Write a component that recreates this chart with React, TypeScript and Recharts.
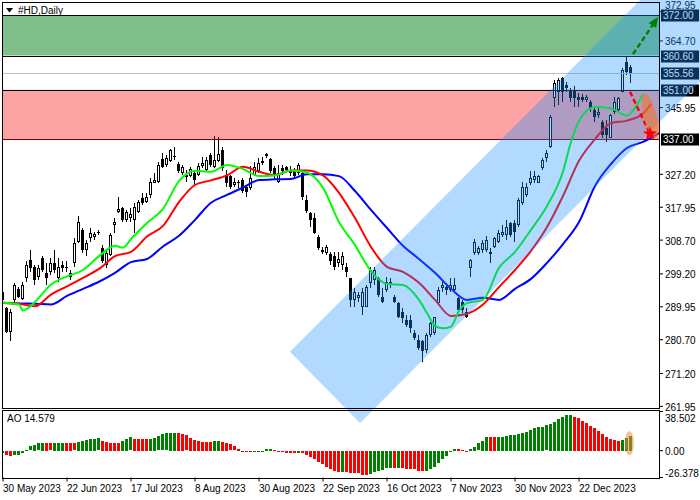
import React from 'react';
import {
  ComposedChart,
  Bar,
  Line,
  Cell,
  XAxis,
  YAxis,
  ReferenceArea,
  ReferenceLine,
  ReferenceDot,
} from 'recharts';

const W = 700;
const H = 500;
const FONT = '"Liberation Sans", Arial, sans-serif';

const DATE_LABELS = [
  '30 May 2023', '22 Jun 2023', '17 Jul 2023', '8 Aug 2023', '30 Aug 2023',
  '22 Sep 2023', '16 Oct 2023', '7 Nov 2023', '30 Nov 2023', '22 Dec 2023',
];
const DATE_BARS = [0, 16, 32, 48, 64, 80, 96, 112, 128, 144];

const PRICE_TICKS = [372.95, 364.7, 345.95, 327.2, 317.95, 308.7, 299.2, 289.95, 280.7, 271.2, 261.95];
const AO_TICKS = [38.502, 0, -26.378];

// horizontal levels
const TARGET_UP = 372.0;
const RESISTANCE = 360.6;
const LAST_PRICE = 355.56;
const SUPPORT = 351.0;
const TARGET_DOWN = 337.0;

// daily candles, 30 May 2023 onwards
const OPEN = [
  294.1, 289.6, 283.0, 291.9, 295.0, 292.2, 298.1, 303.1, 301.2, 298.4,
  303.6, 299.4, 299.8, 302.2, 298.0, 301.7, 300.8, 298.4, 302.2, 308.3,
  311.6, 305.9, 309.2, 309.7, 311.1, 306.4, 301.7, 304.5, 313.0, 316.7,
  317.7, 314.4, 314.9, 314.4, 316.7, 320.5, 319.4, 321.4, 324.9, 325.1,
  331.4, 329.8, 331.0, 332.0, 330.0, 327.5, 327.0, 326.7, 327.5, 327.0,
  329.6, 328.4, 332.6, 329.3, 331.0, 333.9, 326.6, 326.6, 324.2, 325.1,
  325.6, 323.7, 323.3, 327.0, 328.0, 330.3, 332.4, 331.4, 328.9, 325.1,
  328.9, 329.2, 328.4, 328.0, 327.5, 327.5, 320.0, 316.2, 314.9, 309.7,
  305.9, 305.0, 304.8, 304.1, 302.2, 301.7, 301.2, 298.0, 291.9, 292.4,
  290.0, 290.0, 296.6, 297.5, 298.0, 292.8, 294.7, 296.1, 292.8, 290.9,
  288.6, 286.3, 286.3, 282.5, 280.6, 280.2, 277.8, 282.0, 282.5, 290.9,
  295.2, 295.6, 294.7, 294.7, 292.4, 291.4, 288.6, 300.8, 305.0, 305.0,
  305.9, 305.9, 304.8, 306.9, 308.3, 310.2, 310.2, 313.5, 313.5, 312.9,
  319.1, 321.4, 324.7, 325.6, 324.9, 328.9, 331.7, 335.0, 348.6, 350.4,
  354.2, 352.3, 350.9, 350.9, 349.0, 349.0, 348.1, 347.6, 345.3, 343.9,
  342.0, 340.1, 337.3, 344.8, 345.3, 350.4, 358.9, 357.5,
];
const HIGH = [
  294.7, 289.9, 289.4, 296.7, 295.6, 297.0, 302.7, 305.9, 301.7, 301.7,
  304.1, 302.2, 303.6, 305.9, 303.6, 302.7, 302.7, 300.3, 309.2, 315.5,
  312.0, 308.7, 312.0, 311.1, 311.6, 307.3, 305.9, 310.6, 314.9, 320.9,
  318.1, 317.2, 317.7, 319.1, 320.0, 321.9, 321.9, 326.1, 327.5, 330.8,
  333.1, 332.6, 334.2, 335.0, 330.8, 329.8, 328.4, 329.2, 328.0, 330.5,
  332.2, 332.2, 333.1, 338.0, 337.8, 335.0, 328.4, 327.0, 326.1, 325.6,
  326.1, 324.2, 329.4, 330.8, 331.7, 332.2, 333.3, 331.7, 329.4, 329.8,
  329.8, 329.6, 329.4, 328.9, 330.3, 328.4, 321.4, 316.7, 316.2, 310.2,
  306.9, 307.3, 305.5, 305.5, 305.5, 305.5, 302.2, 298.0, 295.2, 294.2,
  295.2, 296.1, 301.2, 301.2, 298.4, 295.2, 298.4, 298.0, 293.3, 291.4,
  289.6, 287.7, 287.7, 283.5, 282.0, 280.6, 282.5, 285.8, 287.2, 295.6,
  297.5, 296.6, 298.0, 298.0, 292.8, 291.9, 289.6, 303.3, 308.9, 307.1,
  308.7, 309.9, 306.4, 309.7, 311.6, 313.0, 314.4, 313.9, 314.4, 320.5,
  325.1, 324.7, 328.0, 328.0, 327.0, 331.7, 334.1, 343.9, 353.7, 354.2,
  354.7, 353.2, 351.4, 351.9, 350.0, 349.7, 349.5, 348.1, 345.8, 345.8,
  342.5, 342.5, 344.3, 349.0, 349.0, 357.0, 360.3, 358.0,
];
const LOW = [
  289.1, 282.6, 280.2, 291.0, 292.4, 291.9, 297.0, 299.8, 296.1, 297.5,
  299.8, 296.1, 298.9, 299.4, 297.0, 299.8, 299.8, 297.5, 301.2, 307.8,
  305.0, 304.1, 308.3, 308.7, 310.2, 302.2, 300.8, 304.1, 310.6, 316.2,
  313.9, 313.9, 313.9, 310.6, 316.2, 318.6, 319.1, 320.5, 324.7, 324.7,
  328.9, 329.3, 330.8, 331.2, 327.7, 327.0, 325.1, 326.4, 324.2, 326.6,
  328.9, 328.0, 329.3, 328.9, 330.8, 328.0, 323.7, 323.0, 323.7, 323.3,
  321.9, 320.9, 322.8, 326.6, 327.5, 329.8, 331.7, 327.5, 325.6, 324.9,
  327.0, 328.0, 326.6, 326.2, 327.0, 320.0, 316.4, 312.5, 310.4, 305.9,
  304.8, 304.5, 301.7, 300.3, 301.2, 300.3, 298.4, 290.0, 290.0, 291.4,
  287.7, 289.9, 295.2, 296.1, 292.8, 290.9, 294.2, 295.2, 290.9, 286.7,
  285.3, 284.4, 282.5, 280.6, 277.8, 274.5, 276.9, 281.6, 282.0, 290.5,
  294.2, 293.3, 294.2, 294.2, 288.1, 288.1, 286.7, 298.4, 304.5, 304.5,
  305.0, 305.5, 302.2, 306.4, 307.8, 309.7, 308.7, 309.7, 308.3, 312.5,
  318.6, 320.9, 324.2, 324.7, 324.7, 328.4, 330.8, 334.5, 346.2, 346.7,
  347.6, 350.4, 347.6, 346.2, 346.2, 347.6, 347.6, 344.8, 342.0, 342.9,
  337.3, 336.4, 337.3, 344.3, 344.8, 350.4, 355.1, 352.8,
];
const CLOSE = [
  291.9, 282.9, 288.6, 296.1, 292.7, 296.1, 301.7, 300.9, 297.5, 300.8,
  300.3, 298.0, 302.2, 300.3, 301.2, 300.8, 301.2, 299.4, 307.8, 313.9,
  305.9, 307.8, 310.6, 310.4, 310.6, 302.7, 305.0, 310.2, 313.9, 317.5,
  314.4, 316.7, 316.1, 318.1, 319.5, 319.1, 320.8, 325.1, 325.6, 329.8,
  329.3, 331.7, 333.9, 332.4, 328.0, 329.3, 326.4, 328.7, 325.6, 329.6,
  330.3, 331.2, 329.8, 331.2, 332.9, 328.9, 324.7, 323.6, 325.1, 324.7,
  322.6, 322.3, 326.1, 329.3, 330.3, 331.0, 332.9, 328.0, 326.6, 327.5,
  328.0, 328.4, 327.5, 326.6, 329.8, 320.9, 317.0, 314.4, 310.6, 306.4,
  305.3, 306.9, 302.7, 301.2, 303.3, 304.1, 299.6, 291.9, 294.2, 293.3,
  294.2, 295.6, 300.3, 300.3, 293.3, 291.4, 297.0, 297.0, 291.4, 287.2,
  286.7, 284.9, 283.9, 281.1, 278.3, 277.4, 282.0, 285.3, 287.2, 294.7,
  296.1, 294.7, 296.1, 296.1, 289.1, 289.1, 287.2, 303.1, 308.3, 306.4,
  307.8, 308.7, 305.5, 309.2, 310.6, 311.1, 312.5, 310.2, 311.1, 320.0,
  323.7, 323.7, 326.1, 326.6, 326.6, 331.2, 333.1, 343.4, 352.8, 353.7,
  350.4, 351.4, 348.6, 348.6, 348.1, 348.1, 349.0, 345.8, 343.4, 344.8,
  338.3, 338.3, 343.9, 347.6, 348.6, 356.5, 356.1, 355.6,
];

// Alligator lines, read at the bar index listed beside them (shifted forward past the last candle)
const JAW_BARS = [
  0, 4, 8, 12, 16, 20, 24, 28, 32, 36, 40, 44, 48, 52, 56, 60, 64, 68, 72, 76, 80,
  84, 88, 92, 96, 100, 104, 108, 112, 116, 120, 124, 128, 132, 136, 140, 144, 148, 152, 156, 160, 164,
];
const JAW = [
  291.1, 290.9, 290.8, 290.6, 293.0, 295.0, 297.0, 299.5, 302.5, 303.4, 306.9, 309.9, 314.4, 319.2,
  321.4, 323.5, 325.6, 325.8, 325.9, 327.2, 327.2, 326.7, 322.5, 317.2, 312.1, 307.1, 303.4, 299.5,
  295.0, 291.9, 292.5, 291.9, 295.0, 297.8, 302.3, 307.6, 313.8, 323.9, 330.1, 334.6, 336.3, 338.8,
];
const TEETH_BARS = [
  0, 4, 8, 12, 16, 20, 24, 28, 32, 36, 40, 44, 48, 52, 56, 60, 64, 68, 72, 76, 80,
  84, 88, 92, 96, 100, 104, 108, 112, 116, 120, 124, 128, 132, 136, 140, 144, 148, 152, 156, 160, 162,
];
const TEETH = [
  291.0, 290.8, 290.1, 293.4, 295.7, 298.1, 300.6, 304.2, 305.4, 309.7, 312.7, 319.4, 324.2, 325.5,
  326.9, 329.3, 327.9, 327.0, 328.3, 328.3, 326.9, 322.0, 314.9, 306.8, 301.2, 299.8, 296.7, 291.9,
  287.4, 288.0, 290.6, 295.5, 300.3, 305.7, 312.4, 321.1, 331.0, 337.1, 341.6, 342.3, 344.2, 347.0,
];
const LIPS_BARS = [
  0, 4, 5, 6, 8, 12, 16, 20, 24, 28, 30, 32, 36, 40, 44, 48, 52, 56, 60, 64, 68, 72, 76, 80, 84,
  88, 92, 96, 100, 104, 106, 108, 110, 112, 114, 116, 120, 124, 128, 132, 136, 140, 142, 144, 148,
  152, 156, 158, 160,
];
const LIPS = [
  291.1, 290.6, 288.9, 289.4, 291.3, 296.2, 298.5, 300.3, 304.2, 307.1, 306.6, 309.0, 313.5, 317.5,
  325.3, 328.2, 327.9, 329.8, 328.7, 326.7, 326.9, 328.3, 327.7, 323.4, 313.8, 307.3, 300.0, 296.4,
  296.1, 291.9, 288.2, 284.6, 283.9, 284.4, 288.8, 291.0, 291.9, 300.9, 305.4, 311.6, 318.3, 328.0,
  336.3, 342.2, 346.1, 345.7, 343.7, 345.9, 349.7,
];

// Awesome Oscillator
const AO = [
  -1.6, -3.9, -4.6, -4.3, -3.6, -1.9, 1.0, 4.3, 5.9, 7.2,
  7.5, 7.4, 7.2, 7.4, 7.5, 7.6, 7.5, 7.4, 7.3, 8.9,
  9.8, 10.8, 11.8, 11.9, 12.0, 9.8, 8.9, 7.9, 7.8, 7.7,
  9.8, 11.8, 13.1, 11.8, 11.7, 11.6, 11.5, 11.8, 12.8, 14.1,
  16.1, 17.0, 17.7, 17.8, 17.7, 16.7, 15.1, 12.5, 10.5, 9.5,
  8.9, 8.8, 8.7, 9.8, 9.9, 8.5, 7.9, 6.2, 4.3, 1.6,
  -0.7, -1.3, -1.4, -1.0, -0.9, -0.3, 1.6, 1.7, 0.7, -0.3,
  -1.3, -1.6, -1.7, -2.3, -1.6, -2.3, -3.9, -5.6, -7.9, -11.1,
  -13.1, -16.1, -18.0, -19.7, -20.3, -20.2, -20.4, -21.3, -21.4, -22.0,
  -23.9, -24.0, -22.9, -21.0, -19.3, -18.4, -17.0, -16.4, -16.5, -16.3,
  -17.0, -17.7, -18.0, -18.1, -19.3, -19.4, -19.3, -18.0, -16.1, -12.1,
  -8.2, -4.6, -1.3, 2.0, 1.9, 1.0, -0.7, 2.0, 3.9, 7.2,
  9.8, 13.8, 13.7, 13.6, 13.7, 13.8, 14.4, 15.7, 15.8, 16.7,
  17.7, 18.7, 20.7, 22.6, 23.6, 23.7, 25.0, 26.2, 28.2, 31.5,
  33.4, 35.4, 35.5, 33.4, 32.5, 29.5, 27.5, 24.6, 22.3, 19.7,
  16.7, 13.8, 11.5, 10.5, 9.5, 10.5, 12.8, 14.579,
];

// annotations, in (bar index, price)
const CHANNEL_BARS = [71.75, 89.25, 200, 182.5];
const CHANNEL_PRICES = [277.3, 257.3, 382.4, 402.4];
const UP_ARROW_BARS = [157.5, 163.75];
const UP_ARROW_PRICES = [361.0, 371.4];
const DOWN_ARROW_BARS = [156.75, 161.4];
const DOWN_ARROW_PRICES = [350.4, 339.4];
const STAR_BAR = 161.75;
const STAR_PRICE = 338.6;
const FOCUS_BAR = 161.75;
const FOCUS_PRICE = 343.6;
const AO_FOCUS_BAR = 156.6;
const AO_FOCUS_VALUE = 7.3;

const X_DOMAIN = [-0.25, 164];
const PRICE_DOMAIN = [261.5, 375.65];
const AO_DOMAIN = [-26.378, 38.502];
const TOTAL_BARS = 165;

const rows: any[] = Array.from({ length: TOTAL_BARS }, (_, i) => {
  const r: any = { i };
  if (i < OPEN.length) {
    r.o = OPEN[i];
    r.h = HIGH[i];
    r.l = LOW[i];
    r.c = CLOSE[i];
    r.hl = [LOW[i], HIGH[i]];
    r.ao = AO[i];
  }
  return r;
});
JAW_BARS.forEach((b, k) => { rows[b].jaw = JAW[k]; });
TEETH_BARS.forEach((b, k) => { rows[b].teeth = TEETH[k]; });
LIPS_BARS.forEach((b, k) => { rows[b].lips = LIPS[k]; });
const aoRows = rows.slice(0, AO.length);

const Candle = (p: any) => {
  const d = p.payload;
  if (!d || d.o == null) return <g />;
  const top = Math.min(p.y, p.y + p.height);
  const bottom = Math.max(p.y, p.y + p.height);
  const span = d.h - d.l || 1;
  const yOf = (v: number) => top + ((d.h - v) / span) * (bottom - top);
  const cx = Math.floor(p.x + p.width / 2);
  const bodyTop = Math.round(yOf(Math.max(d.o, d.c)));
  const bodyBot = Math.max(bodyTop + 1, Math.round(yOf(Math.min(d.o, d.c))));
  const up = d.c >= d.o;
  return (
    <g>
      <rect x={cx} y={Math.round(top)} width={1} height={Math.max(1, Math.round(bottom) - Math.round(top))} fill="#000" />
      <rect x={cx - 1} y={bodyTop} width={3} height={bodyBot - bodyTop} fill="#000" />
      {up && bodyBot - bodyTop > 2 && (
        <rect x={cx} y={bodyTop + 1} width={1} height={bodyBot - bodyTop - 2} fill="#fff" />
      )}
    </g>
  );
};

const AoBar = (p: any) => {
  const top = Math.round(Math.min(p.y, p.y + p.height));
  const h = Math.max(1, Math.round(Math.abs(p.height)));
  return <rect x={Math.round(p.x)} y={top} width={3} height={h} fill={p.fill} />;
};

const PriceTick = (p: any) => {
  const v = p.payload.value;
  // the top label sits up against the frame, just above the 372.00 box
  const dy = v === PRICE_TICKS[0] ? -2.5 : 4.5;
  return (
    <text x={p.x} y={p.y + dy} fontSize={10} fontFamily={FONT} fill="#000" textAnchor="start">
      {v.toFixed(2)}
    </text>
  );
};

const AoTick = (p: any) => {
  const v = p.payload.value;
  const dy = v > 0 ? 10 : v < 0 ? -1 : 4.3;
  return (
    <text x={p.x} y={p.y + dy} fontSize={10} fontFamily={FONT} fill="#000" textAnchor="start">
      {v === 0 ? '0.00' : String(v)}
    </text>
  );
};

const DateTick = (p: any) => {
  const k = DATE_BARS.indexOf(p.payload.value);
  return (
    <text x={p.x} y={p.y + 8} fontSize={10} fontFamily={FONT} fill="#000" textAnchor="start">
      {DATE_LABELS[k]}
    </text>
  );
};

const levelShape = (stroke: string, box?: string) => (p: any) => {
  const xl = Math.min(p.x1, p.x2);
  const xr = Math.max(p.x1, p.x2);
  const y = Math.round(p.y1) + 0.5;
  return (
    <g>
      <line x1={xl} x2={xr} y1={y} y2={y} stroke={stroke} strokeWidth={1} />
      {box && (
        <g>
          <rect x={xr + 2} y={y - 6} width={38} height={12} fill="#000" />
          <text x={xr + 4} y={y + 3.5} fontSize={10} fontFamily={FONT} fill="#fff">{box}</text>
        </g>
      )}
    </g>
  );
};

const channelShape = (p: any) => {
  const x1 = Math.min(...CHANNEL_BARS);
  const x2 = Math.max(...CHANNEL_BARS);
  const y1 = Math.min(...CHANNEL_PRICES);
  const y2 = Math.max(...CHANNEL_PRICES);
  const px = (b: number) => p.x + ((b - x1) / (x2 - x1)) * p.width;
  const py = (v: number) => p.y + ((y2 - v) / (y2 - y1)) * p.height;
  const pts = CHANNEL_BARS.map((b, k) => `${px(b)},${py(CHANNEL_PRICES[k])}`).join(' ');
  return <polygon points={pts} fill="#1e90ff" fillOpacity={0.34} />;
};

const arrowShape = (color: string, withHead: boolean) => (p: any) => {
  const { x1, y1, x2, y2 } = p;
  const a = Math.atan2(y2 - y1, x2 - x1);
  const len = withHead ? 10 : 0;
  const bx = x2 - len * Math.cos(a);
  const by = y2 - len * Math.sin(a);
  const nx = -Math.sin(a) * 4.5;
  const ny = Math.cos(a) * 4.5;
  return (
    <g>
      <line x1={x1} y1={y1} x2={bx} y2={by} stroke={color} strokeWidth={2.5} strokeDasharray="5 3" />
      {withHead && <polygon points={`${x2},${y2} ${bx + nx},${by + ny} ${bx - nx},${by - ny}`} fill={color} />}
    </g>
  );
};

const starShape = (p: any) => {
  const pts: string[] = [];
  for (let k = 0; k < 10; k++) {
    const r = k % 2 ? 3 : 7.5;
    const t = -Math.PI / 2 + (k * Math.PI) / 5;
    pts.push(`${p.cx + r * Math.cos(t)},${p.cy + r * Math.sin(t)}`);
  }
  return <polygon points={pts.join(' ')} fill="#ff0000" />;
};

const ellipseShape = (rx: number, ry: number, angle: number, fill: string, opacity: number) => (p: any) => (
  <ellipse
    cx={p.cx}
    cy={p.cy}
    rx={rx}
    ry={ry}
    transform={`rotate(${angle} ${p.cx} ${p.cy})`}
    fill={fill}
    fillOpacity={opacity}
  />
);

const layer: React.CSSProperties = { position: 'absolute', left: 0, top: 0 };

export default function App() {
  return (
    <div style={{ position: 'absolute', left: 0, top: 0, width: W, height: H, background: '#fff', overflow: 'hidden' }}>
      {/* Awesome Oscillator panel + date axis */}
      <div style={layer}>
        <ComposedChart width={W} height={H} data={aoRows} margin={{ top: 411.5, right: 0, bottom: 0, left: 2 }}>
          <XAxis
            dataKey="i"
            type="number"
            domain={X_DOMAIN}
            allowDataOverflow
            ticks={DATE_BARS}
            interval={0}
            height={22.5}
            tickSize={4}
            axisLine={false}
            tickLine={{ stroke: '#000' }}
            tick={DateTick}
          />
          <YAxis
            orientation="right"
            width={41}
            domain={AO_DOMAIN}
            allowDataOverflow
            ticks={AO_TICKS}
            interval={0}
            tickSize={4}
            axisLine={false}
            tickLine={{ stroke: '#000' }}
            tick={AoTick}
          />
          <Bar dataKey="ao" barSize={3} shape={AoBar} isAnimationActive={false}>
            {aoRows.map((r, k) => (
              <Cell key={k} fill={k === 0 || AO[k] >= AO[k - 1] ? '#008000' : '#ff0000'} />
            ))}
          </Bar>
          <ReferenceDot
            x={AO_FOCUS_BAR}
            y={AO_FOCUS_VALUE}
            ifOverflow="visible"
            shape={ellipseShape(4.5, 12, 0, '#f08a3c', 0.55)}
          />
        </ComposedChart>
      </div>

      {/* price panel */}
      <div style={layer}>
        <ComposedChart width={W} height={H} data={rows} margin={{ top: 2, right: 0, bottom: 92, left: 2 }}>
          <XAxis dataKey="i" type="number" domain={X_DOMAIN} allowDataOverflow hide />
          <YAxis
            orientation="right"
            width={41}
            domain={PRICE_DOMAIN}
            allowDataOverflow
            ticks={PRICE_TICKS}
            interval={0}
            tickSize={4}
            axisLine={false}
            tickLine={{ stroke: '#000' }}
            tick={PriceTick}
          />
          <ReferenceArea y1={RESISTANCE} y2={TARGET_UP} fill="#80bf8b" fillOpacity={1} stroke="none" />
          <ReferenceArea y1={TARGET_DOWN} y2={SUPPORT} fill="#fca3a3" fillOpacity={1} stroke="none" />
          <ReferenceLine y={LAST_PRICE} shape={levelShape('#c0c0c0', LAST_PRICE.toFixed(2))} />
          <ReferenceLine y={TARGET_UP} shape={levelShape('#000', TARGET_UP.toFixed(2))} />
          <ReferenceLine y={RESISTANCE} shape={levelShape('#000', RESISTANCE.toFixed(2))} />
          <ReferenceLine y={SUPPORT} shape={levelShape('#000', SUPPORT.toFixed(2))} />
          <ReferenceLine y={TARGET_DOWN} shape={levelShape('#7a0000', TARGET_DOWN.toFixed(2))} />
          <Bar dataKey="hl" barSize={3} shape={Candle} isAnimationActive={false} />
          <Line dataKey="jaw" type="monotone" stroke="#0000ff" strokeWidth={2} dot={false} connectNulls isAnimationActive={false} />
          <Line dataKey="teeth" type="monotone" stroke="#ff0000" strokeWidth={2} dot={false} connectNulls isAnimationActive={false} />
          <Line dataKey="lips" type="monotone" stroke="#00ff00" strokeWidth={2} dot={false} connectNulls isAnimationActive={false} />
        </ComposedChart>
      </div>

      {/* channel and forecast marks drawn over everything */}
      <div style={layer}>
        <ComposedChart width={W} height={H} data={rows} margin={{ top: 2, right: 0, bottom: 92, left: 2 }}>
          <XAxis dataKey="i" type="number" domain={X_DOMAIN} allowDataOverflow hide />
          <YAxis
            orientation="right"
            width={41}
            domain={PRICE_DOMAIN}
            allowDataOverflow
            tick={false}
            tickLine={false}
            axisLine={false}
          />
          <ReferenceArea
            x1={Math.min(...CHANNEL_BARS)}
            x2={Math.max(...CHANNEL_BARS)}
            y1={Math.min(...CHANNEL_PRICES)}
            y2={Math.max(...CHANNEL_PRICES)}
            ifOverflow="visible"
            shape={channelShape}
          />
          <ReferenceDot
            x={FOCUS_BAR}
            y={FOCUS_PRICE}
            ifOverflow="visible"
            shape={ellipseShape(6.5, 23, -14, '#f07828', 0.6)}
          />
          <ReferenceLine
            segment={[
              { x: UP_ARROW_BARS[0], y: UP_ARROW_PRICES[0] },
              { x: UP_ARROW_BARS[1], y: UP_ARROW_PRICES[1] },
            ]}
            ifOverflow="visible"
            shape={arrowShape('#008000', true)}
          />
          <ReferenceLine
            segment={[
              { x: DOWN_ARROW_BARS[0], y: DOWN_ARROW_PRICES[0] },
              { x: DOWN_ARROW_BARS[1], y: DOWN_ARROW_PRICES[1] },
            ]}
            ifOverflow="visible"
            shape={arrowShape('#ff0000', false)}
          />
          <ReferenceDot x={STAR_BAR} y={STAR_PRICE} ifOverflow="visible" shape={starShape} />
        </ComposedChart>
      </div>

      {/* panel frames */}
      <div style={{ ...layer, left: 2, top: 2, width: 658, height: 407, border: '1px solid #000', boxSizing: 'border-box' }} />
      <div style={{ ...layer, left: 2, top: 410, width: 658, height: 69, border: '1px solid #000', boxSizing: 'border-box' }} />

      <div style={{ ...layer, left: 6, top: 3, height: 14, display: 'flex', alignItems: 'center', font: `10px ${FONT}`, color: '#000' }}>
        <svg width={7} height={5} style={{ marginRight: 5 }}>
          <polygon points="0,0 7,0 3.5,4.5" fill="#000" />
        </svg>
        #HD,Daily
      </div>
      <div style={{ ...layer, left: 7, top: 413, font: `10px ${FONT}`, color: '#000', lineHeight: '12px' }}>
        AO 14.579
      </div>
    </div>
  );
}
